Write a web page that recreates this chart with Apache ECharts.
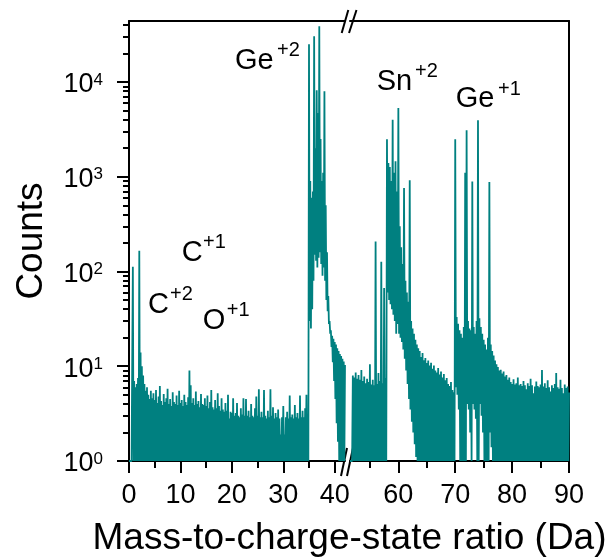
<!DOCTYPE html>
<html>
<head>
<meta charset="utf-8">
<script src="https://cdn.jsdelivr.net/npm/echarts@6/dist/echarts.min.js"></script>
<style>html,body{margin:0;padding:0;background:#fff}#chart{width:610px;height:560px}</style>
</head>
<body>
<div id="chart"></div>
<script>
// ---------- DATA (counts per 0.25 Da bin) ----------
const BIN = 0.25;           // Da per bin
const FLOOR = 1;            // empty bin drawn at the axis floor

// Left panel (0 - 42 Da)
const hydrogenStart = 0.0;
const hydrogenUpper = [1,1,1,112,7,6,6.5,7.5,165,14,10,8,6.5,5.5,6,5,4.5,5.5,4.6,5.2];
const lowMassAStart = 5.0;
const lowMassAUpper = [4.4,5.6,4.1,4.8,6.2,4.3,3.9,5.1,4.2,4.6, 5.8,4.0,4.5,3.8,5.3,4.2,4.0,4.9,3.9,5.5,
                       4.1,4.4,3.8,5.0,4.2,3.9,4.7,9.0,6.3,4.1, 4.6,3.9,5.4,4.0,4.3,3.7,5.1,4.0,3.9,4.6];
const lowMassBStart = 15.0;
const lowMassBUpper = [3.8,4.9,3.6,4.2,5.6,3.7,3.5,4.4,3.6,5.2, 3.8,3.4,4.6,3.5,3.3,4.1,3.4,5.0,2.8,3.3,
                       3.2,4.6,3.0,3.2,4.1,3.0,2.9,3.6,3.1,4.6, 3.0,4.5,3.0,3.4,2.9,4.0,3.0,2.9,3.6,4.8];
const lowMassCStart = 25.0;
const lowMassCUpper = [3.0,5.7,2.9,3.3,2.9,5.6,3.0,2.8,3.4,2.9, 5.7,3.0,3.7,2.8,3.2,2.9,3.5,2.8,1.9,2.9,
                       3.8,1.9,2.9,3.3,2.8,4.9,2.9,3.1,2.8,3.9, 2.9,3.2,2.8,4.9,2.9,3.4,2.9,3.6,5.0,2.9];
const geTwoStart = 35.0;
const geTwoUpper = [25000,900,600,700,30400,2000,8200,4700,38800,2500,900,1100,8000,500,160,55,30,24,21,19.5,
                    18,17,15.5,14.5,13.5,12.8,12,11.2,10.3];
const geTwoLower = [30,25,40,80,150,130,110,140,160,120,90,110,80,50,38,28,22,16,11,7,
                    4.5,2.5,1.6,1,1,1,1,1,1];

// Right panel (51.5 - 90 Da)
const preSnStart = 51.5;
const preSnUpper = [1,1,8.0,7.6,8.6,7.4,8.1,7.2,9.1,7.0,7.8,6.6,7.4,6.8,10.5,6.4,7.2,6.3,207,6.5,8.5,7.0,127,6.6,67,7.5];
const snTwoStart = 58.0;
const snTwoUpper = [2480,1400,1270,900,4000,1100,1460,700,5300,300,180,120,760,80,60,48,920,30,25,22,19,17,15.5,14.5];
const snTwoLower = [60,50,45,40,35,30,22,28,22,20,18,15,12,9,6.5,4.5,3.5,2.6,2.0,1.5,1.1,1,1,1];
const midStart = 64.0;
const midUpper = [12.5,13.8,11.6,12.2,10.8,11.5,10.2,10.9,9.4,10.2,9.0,8.6,9.6,8.2,8.8,7.6,8.3,7.1,7.5,6.5,6.2,6.8,5.6,5.3];
const geOneStart = 70.0;
const geOneUpper = [2480,33,28,24,22,20,26,1100,3100,30,25,24,890,26,22,30,3950,32,26,22,19,17,15,20,880,17,14.5,13,11.5,10.5,9.8,9.0];
const geOneLower = [6,5,3.5,1,1,1,1,1,4,3.5,2,1,4,3.5,2.8,1,1,4,3,2,1,1,1,1,2,1.4,1,1,1,1,1,1];
const highStart = 78.0;
const highUpper = [9.2,8.4,8.8,7.8,8.1,7.2,7.6,6.8,6.5,7.3,6.4,6.6,7.6,6.3,6.5,6.2,7.0,6.3,5.7,6.6,
                   6.2,7.4,6.3,5.2,6.1,6.9,6.2,6.0,6.4,9.1,6.1,6.6,5.9,7.1,6.0,5.4,6.3,5.9,6.5,8.5,
                   6.0,5.8,7.2,5.9,5.2,6.4,5.9,6.1,5.3];

// Axis ticks / labels
const leftMajor = [0,10,20,30,40];
const leftMinor = [5,15,25,35];
const rightMajor = [60,70,80,90];
const rightMinor = [55,65,75,85];
const yMin = 1, yMax = 44000;

// Annotations: [base, superscript]
const annotations = [
  ['Ge','+2'], ['Sn','+2'], ['Ge','+1'], ['C','+1'], ['C','+2'], ['O','+1']
];

// ---------- BUILD ----------
function trace(segments) {
  const pts = [];
  segments.forEach(seg => {
    seg.upper.forEach((u, i) => {
      const x = seg.start + i * BIN;
      pts.push([x, u]);
      pts.push([x + BIN / 2, seg.lower ? seg.lower[i] : FLOOR]);
    });
  });
  pts.pop();
  return pts;
}
const leftTrace = trace([
  {start: hydrogenStart, upper: hydrogenUpper},
  {start: lowMassAStart, upper: lowMassAUpper},
  {start: lowMassBStart, upper: lowMassBUpper},
  {start: lowMassCStart, upper: lowMassCUpper},
  {start: geTwoStart, upper: geTwoUpper, lower: geTwoLower}
]);
const rightTrace = trace([
  {start: preSnStart, upper: preSnUpper},
  {start: snTwoStart, upper: snTwoUpper, lower: snTwoLower},
  {start: midStart, upper: midUpper},
  {start: geOneStart, upper: geOneUpper, lower: geOneLower},
  {start: highStart, upper: highUpper}
]);

const FONT = 'Liberation Sans, Arial, sans-serif';
const TEAL = '#008080';
const LOG_TOP = Math.log10(yMax);
const majorLog = [0,1,2,3,4];
const minorLog = [];
for (let d = 0; d <= 4; d++) for (let k = 2; k <= 9; k++) {
  const v = Math.log10(k * Math.pow(10, d));
  if (v < LOG_TOP) minorLog.push(v);
}

const black = {color: '#000', width: 2};
function hiddenAxisBase() {
  return {axisLabel: {show: false}, splitLine: {show: false}};
}

function xMain(grid, min, max, major) {
  return {type: 'value', gridIndex: grid, min, max, position: 'bottom',
    axisLine: {show: true, lineStyle: black},
    axisTick: {show: true, length: 12, lineStyle: black, customValues: major},
    axisLabel: {show: true, customValues: major, margin: 21, fontSize: 27, lineHeight: 27, color: '#000', fontFamily: FONT},
    splitLine: {show: false}};
}
function xMinor(grid, min, max, minor) {
  return Object.assign(hiddenAxisBase(), {type: 'value', gridIndex: grid, min, max, position: 'bottom',
    axisLine: {show: false},
    axisTick: {show: true, length: 7, lineStyle: black, customValues: minor}});
}
function xTop(grid, min, max) {
  return Object.assign(hiddenAxisBase(), {type: 'value', gridIndex: grid, min, max, position: 'top',
    axisLine: {show: true, lineStyle: black}, axisTick: {show: false}});
}

// annotation positions (pixel placement of text only)
const annotPos = [
  [235, 70.7, 277, 57],
  [376.7, 91.7, 415, 78],
  [455.7, 109.3, 498, 96],
  [181.7, 263.3, 203, 249.5],
  [148, 315, 170, 301],
  [202.7, 330.7, 226.7, 317]
];
const graphics = [];
annotations.forEach((a, i) => {
  const p = annotPos[i];
  graphics.push({type: 'text', x: p[0], y: p[1] - 0.3465 * 29,
    style: {text: a[0], fontSize: 29, fontFamily: FONT, fill: '#000', align: 'left', verticalAlign: 'middle', textAlign: 'left', textVerticalAlign: 'middle'}});
  graphics.push({type: 'text', x: p[2], y: p[3] - 0.3465 * 20,
    style: {text: a[1], fontSize: 20, fontFamily: FONT, fill: '#000', align: 'left', verticalAlign: 'middle', textAlign: 'left', textVerticalAlign: 'middle'}});
});
graphics.push({type: 'text', x: 349.5, y: 539,
  style: {text: 'Mass-to-charge-state ratio (Da)', fontSize: 37, fontFamily: FONT, fill: '#000', align: 'center', verticalAlign: 'middle', textAlign: 'center', textVerticalAlign: 'middle'}});
// axis-break marks
[[341.7,33,348.3,10],[349,33,356.5,10],[341,476,347,448],[347,476,353,448]].forEach(s => {
  graphics.push({type: 'line', shape: {x1: s[0], y1: s[1], x2: s[2], y2: s[3]}, style: {stroke: '#000', lineWidth: 2}});
});

const option = {
  animation: false,
  backgroundColor: '#fff',
  textStyle: {fontFamily: FONT},
  grid: [
    {left: 129, top: 21, width: 216, height: 440},
    {left: 350, top: 21, width: 219, height: 440}
  ],
  xAxis: [
    xMain(0, 0, 42, leftMajor),
    xMinor(0, 0, 42, leftMinor),
    xTop(0, 0, 42),
    xMain(1, 51.5, 90, rightMajor),
    xMinor(1, 51.5, 90, rightMinor),
    xTop(1, 51.5, 90)
  ],
  yAxis: [
    {type: 'log', logBase: 10, gridIndex: 0, min: yMin, max: yMax, position: 'left',
     name: 'Counts', nameLocation: 'middle', nameGap: 79, nameRotate: 90,
     nameTextStyle: {fontSize: 37, color: '#000', fontFamily: FONT},
     axisLine: {show: true, lineStyle: black}, axisTick: {show: false}, splitLine: {show: false},
     axisLabel: {show: true, margin: 26, padding: [6,0,0,0], color: '#000',
       formatter: function (v) {
         const l = Math.log10(v), e = Math.round(l);
         if (Math.abs(l - e) > 1e-6) return '';
         return '{b|10}{s|' + e + '}';
       },
       rich: {b: {fontSize: 27, lineHeight: 27, fontFamily: FONT, color: '#000'},
              s: {fontSize: 17, lineHeight: 8, verticalAlign: 'top', fontFamily: FONT, color: '#000'}}}},
    Object.assign(hiddenAxisBase(), {type: 'value', gridIndex: 0, min: 0, max: LOG_TOP, position: 'left',
     axisLine: {show: false}, axisTick: {show: true, length: 12, lineStyle: black, customValues: majorLog}}),
    Object.assign(hiddenAxisBase(), {type: 'value', gridIndex: 0, min: 0, max: LOG_TOP, position: 'left',
     axisLine: {show: false}, axisTick: {show: true, length: 6, lineStyle: black, customValues: minorLog}}),
    Object.assign(hiddenAxisBase(), {type: 'log', logBase: 10, gridIndex: 1, min: yMin, max: yMax, position: 'left',
     axisLine: {show: false}, axisTick: {show: false}}),
    Object.assign(hiddenAxisBase(), {type: 'value', gridIndex: 1, min: 0, max: LOG_TOP, position: 'right',
     axisLine: {show: true, lineStyle: black}, axisTick: {show: false}})
  ],
  series: [
    {type: 'line', xAxisIndex: 0, yAxisIndex: 0, data: leftTrace, symbol: 'none', silent: true,
     lineStyle: {color: TEAL, width: 1.8, join: 'bevel'}, itemStyle: {color: TEAL}, clip: true},
    {type: 'line', xAxisIndex: 3, yAxisIndex: 3, data: rightTrace, symbol: 'none', silent: true,
     lineStyle: {color: TEAL, width: 1.8, join: 'bevel'}, itemStyle: {color: TEAL}, clip: true}
  ],
  graphic: graphics
};

const chart = echarts.init(document.getElementById('chart'), null, {renderer: 'canvas'});
chart.setOption(option);
</script>
</body>
</html>
